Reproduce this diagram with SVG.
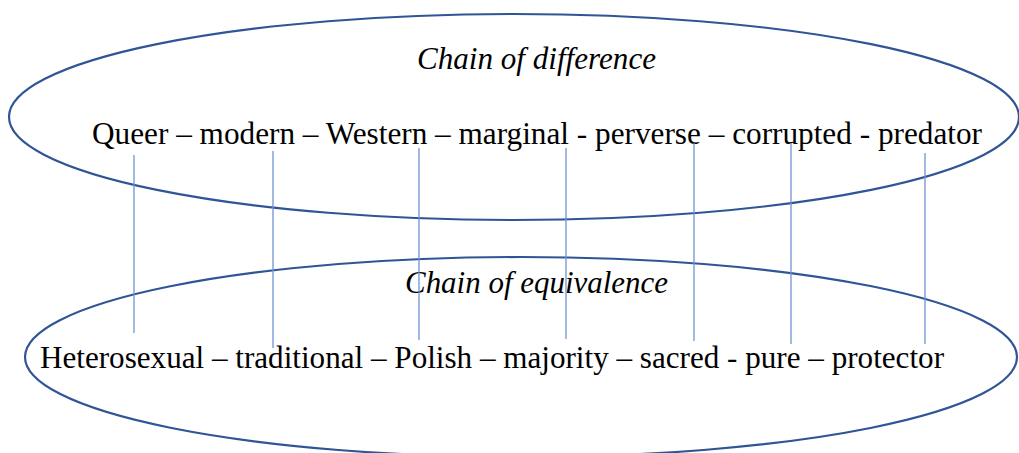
<svg xmlns="http://www.w3.org/2000/svg" width="1019" height="453" viewBox="0 0 1019 453">
<style>
.ell{fill:none;stroke:#2F5597;stroke-width:2.2}
.lnk{stroke:#6F93D6;stroke-width:1.3}
.main{font-family:"Liberation Serif","Times New Roman",serif;font-size:31px;fill:#000}
.ttl{font-family:"Liberation Serif","Times New Roman",serif;font-size:31px;font-style:italic;fill:#000}
</style>
<rect width="1019" height="453" fill="#fff"/>
<g id="chain-difference">
<ellipse class="ell" cx="514" cy="117" rx="505" ry="103"/>
<text class="ttl" x="417" y="69" textLength="239" lengthAdjust="spacingAndGlyphs">Chain of difference</text>
<text class="main" x="92" y="144" textLength="890" lengthAdjust="spacingAndGlyphs">Queer – modern – Western – marginal - perverse – corrupted - predator</text>
</g>
<g id="chain-equivalence">
<ellipse class="ell" cx="521" cy="357" rx="496" ry="100"/>
<text class="ttl" x="405" y="293" textLength="263" lengthAdjust="spacingAndGlyphs">Chain of equivalence</text>
<text class="main" x="40" y="368" textLength="904" lengthAdjust="spacingAndGlyphs">Heterosexual – traditional – Polish – majority – sacred - pure – protector</text>
</g>
<g id="connectors">
<line class="lnk" x1="134" y1="155" x2="134" y2="333"/>
<line class="lnk" x1="273" y1="151" x2="273" y2="348"/>
<line class="lnk" x1="419" y1="148" x2="419" y2="340"/>
<line class="lnk" x1="566" y1="148" x2="566" y2="339"/>
<line class="lnk" x1="694" y1="143" x2="694" y2="341"/>
<line class="lnk" x1="791" y1="143" x2="791" y2="344"/>
<line class="lnk" x1="925" y1="153" x2="925" y2="344"/>
</g>
</svg>
